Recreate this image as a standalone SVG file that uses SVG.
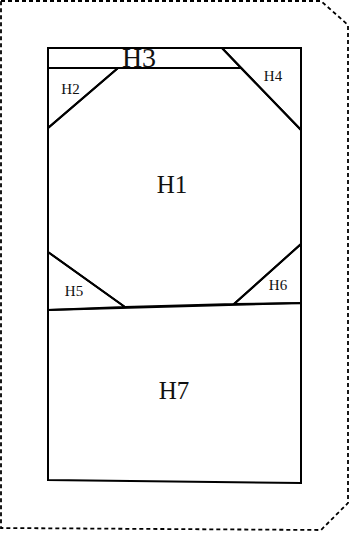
<svg xmlns="http://www.w3.org/2000/svg" width="351" height="540" viewBox="0 0 351 540">
<style>
.r{fill:none;stroke:#000;stroke-width:2;stroke-linejoin:miter}
.t{font-family:"Liberation Serif",serif;fill:#111;text-anchor:middle}
.b{fill:none;stroke:#000;stroke-width:1.8;stroke-dasharray:4 3}
</style>
<rect width="351" height="540" fill="#fff"/>
<g id="boundary"><polygon class="b" points="1,1 321,1 348,25 348,503 321,530 1,528"/></g>
<g id="H3"><polygon class="r" points="48,48 222,48 241,68 48,68"/><text class="t" x="139" y="67" font-size="28">H3</text></g>
<g id="H4"><polygon class="r" points="222,48 301,48 301,130"/><text class="t" x="273" y="81" font-size="15">H4</text></g>
<g id="H2"><polygon class="r" points="48,68 118,68 48,128"/><text class="t" x="70.5" y="94" font-size="15">H2</text></g>
<g id="H1"><polygon class="r" points="118,68 241,68 301,130 301,244 234,304 125,307 48,252 48,128"/><text class="t" x="172" y="193" font-size="25">H1</text></g>
<g id="H5"><polygon class="r" points="48,252 125,307 48,310"/><text class="t" x="74" y="296" font-size="15">H5</text></g>
<g id="H6"><polygon class="r" points="301,244 301,303 234,304"/><text class="t" x="278" y="290" font-size="15">H6</text></g>
<g id="H7"><polygon class="r" points="48,310 301,303 301,483 48,480"/><text class="t" x="174" y="399" font-size="25">H7</text></g>
<g id="connectors"/>
</svg>
